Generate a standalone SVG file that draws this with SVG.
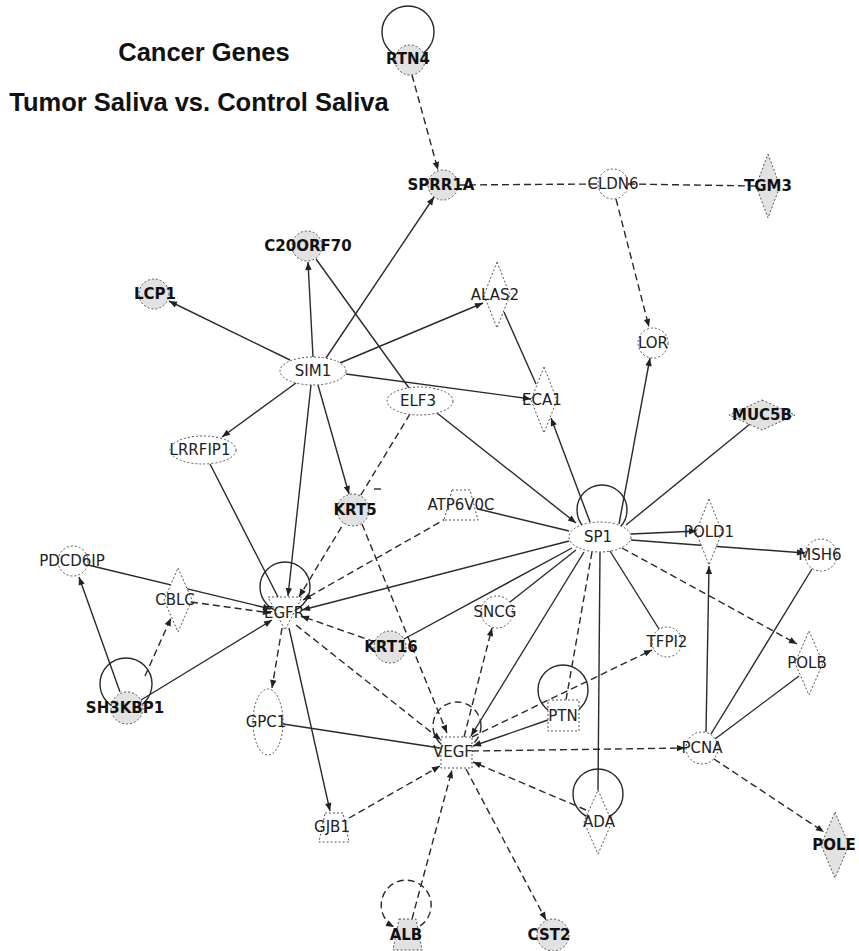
<svg xmlns="http://www.w3.org/2000/svg" width="859" height="951" viewBox="0 0 859 951">
<style>
.e{stroke:#2a2a2a;stroke-width:1.4;fill:none}
.d{stroke-dasharray:7,4}
.a{marker-end:url(#ar)}
.n{stroke:#555;stroke-width:1;stroke-dasharray:2,2;fill:#fff}
.g{fill:#e2e2e2}
.t{font-family:"DejaVu Sans",sans-serif;font-size:15px;fill:#222;text-anchor:middle}
.b{font-weight:bold;fill:#111}
.title{font-family:"Liberation Sans",Arial,sans-serif;font-weight:bold;font-size:25.5px;fill:#111;text-anchor:middle}
</style>
<defs>
<marker id="ar" viewBox="0 0 10 10" refX="10" refY="5" markerWidth="9" markerHeight="8" markerUnits="userSpaceOnUse" orient="auto">
<path d="M0,1 L10,5 L0,9 z" fill="#222"/>
</marker>
</defs>
<rect width="859" height="951" fill="#fff"/>
<text class="title" x="204" y="61">Cancer Genes</text>
<text class="title" x="199" y="111">Tumor Saliva vs. Control Saliva</text>

<g id="connectors">
<circle class="e" cx="408" cy="32" r="26"/>
<circle class="e" cx="602" cy="510" r="25"/>
<circle class="e" cx="285" cy="587" r="25"/>
<circle class="e" cx="126" cy="684" r="26"/>
<circle class="e" cx="563" cy="690" r="25"/>
<circle class="e" cx="598" cy="794" r="25"/>
<circle class="e d" cx="457" cy="726" r="24"/>
<path class="e d a" d="M420,926 A25,25 0 1 0 394,927"/>
<line class="e d a" x1="412" y1="75" x2="438" y2="170"/>
<line class="e d" x1="458" y1="185" x2="598" y2="184"/>
<line class="e d" x1="628" y1="184" x2="756" y2="186"/>
<line class="e d a" x1="616" y1="199" x2="649" y2="327"/>
<line class="e a" x1="326" y1="358" x2="434" y2="197"/>
<line class="e a" x1="313" y1="357" x2="308" y2="262"/>
<line class="e" x1="316" y1="259" x2="409" y2="388"/>
<line class="e a" x1="290" y1="360" x2="169" y2="301"/>
<line class="e a" x1="340" y1="363" x2="483" y2="303"/>
<line class="e a" x1="346" y1="374" x2="531" y2="399"/>
<line class="e" x1="504" y1="312" x2="536" y2="384"/>
<line class="e a" x1="590" y1="522" x2="551" y2="418"/>
<line class="e a" x1="619" y1="524" x2="650" y2="358"/>
<line class="e" x1="626" y1="525" x2="750" y2="424"/>
<line class="e a" x1="437" y1="413" x2="576" y2="523"/>
<line class="e a" x1="318" y1="385" x2="349" y2="494"/>
<line class="e a" x1="311" y1="385" x2="288" y2="596"/>
<line class="e a" x1="296" y1="383" x2="222" y2="437"/>
<line class="e d a" x1="410" y1="414" x2="299" y2="597"/>
<line class="e d a" x1="362" y1="524" x2="447" y2="733"/>
<line class="e" x1="478" y1="509" x2="569" y2="531"/>
<line class="e d a" x1="449" y1="517" x2="303" y2="600"/>
<line class="e a" x1="569" y1="541" x2="302" y2="610"/>
<line class="e" x1="572" y1="548" x2="404" y2="639"/>
<line class="e" x1="576" y1="550" x2="510" y2="602"/>
<line class="e a" x1="584" y1="552" x2="471" y2="736"/>
<line class="e d" x1="592" y1="552" x2="566" y2="700"/>
<line class="e" x1="600" y1="552" x2="598" y2="790"/>
<line class="e" x1="610" y1="551" x2="659" y2="629"/>
<line class="e d a" x1="622" y1="548" x2="797" y2="644"/>
<line class="e a" x1="631" y1="534" x2="697" y2="531"/>
<line class="e a" x1="631" y1="540" x2="805" y2="553"/>
<line class="e a" x1="706" y1="732" x2="709" y2="566"/>
<line class="e" x1="711" y1="734" x2="812" y2="569"/>
<line class="e" x1="715" y1="739" x2="799" y2="676"/>
<line class="e d a" x1="714" y1="759" x2="824" y2="832"/>
<line class="e d a" x1="472" y1="751" x2="685" y2="748"/>
<line class="e a" x1="548" y1="720" x2="473" y2="746"/>
<line class="e d a" x1="472" y1="737" x2="652" y2="650"/>
<line class="e d a" x1="586" y1="810" x2="473" y2="762"/>
<line class="e d a" x1="466" y1="769" x2="546" y2="920"/>
<line class="e d a" x1="412" y1="919" x2="452" y2="770"/>
<line class="e d a" x1="349" y1="818" x2="440" y2="766"/>
<line class="e" x1="283" y1="724" x2="440" y2="748"/>
<line class="e d a" x1="296" y1="625" x2="441" y2="740"/>
<line class="e d a" x1="375" y1="642" x2="301" y2="616"/>
<line class="e d a" x1="464" y1="737" x2="492" y2="628"/>
<line class="e a" x1="88" y1="565" x2="271" y2="609"/>
<line class="e d a" x1="191" y1="602" x2="271" y2="613"/>
<line class="e a" x1="120" y1="692" x2="79" y2="577"/>
<line class="e d a" x1="145" y1="676" x2="171" y2="618"/>
<line class="e a" x1="141" y1="700" x2="272" y2="620"/>
<line class="e d a" x1="282" y1="628" x2="272" y2="688"/>
<line class="e a" x1="289" y1="628" x2="330" y2="811"/>
<line class="e" x1="210" y1="464" x2="278" y2="597"/>
<line class="e" x1="374" y1="489" x2="381" y2="489"/>
</g>

<g id="RTN4"><circle class="n g" cx="410" cy="60" r="15"/><text class="t b" x="408" y="64">RTN4</text></g>
<g id="SPRR1A"><circle class="n g" cx="443" cy="185" r="15"/><text class="t b" x="441" y="190">SPRR1A</text></g>
<g id="CLDN6"><circle class="n" cx="613" cy="184" r="15"/><text class="t" x="613" y="189">CLDN6</text></g>
<g id="TGM3"><polygon class="n g" points="768,154 780,186 768,218 756,186"/><text class="t b" x="768" y="191">TGM3</text></g>
<g id="C20ORF70"><circle class="n g" cx="307" cy="246" r="15"/><text class="t b" x="308" y="251">C20ORF70</text></g>
<g id="LCP1"><circle class="n g" cx="154" cy="294" r="15"/><text class="t b" x="155" y="299">LCP1</text></g>
<g id="ALAS2"><polygon class="n" points="497,262 510,295 497,328 484,295"/><text class="t" x="495" y="300">ALAS2</text></g>
<g id="LOR"><circle class="n" cx="653" cy="343" r="15"/><text class="t" x="653" y="348">LOR</text></g>
<g id="SIM1"><ellipse class="n" cx="313" cy="371" rx="33" ry="14"/><text class="t" x="313" y="376">SIM1</text></g>
<g id="ELF3"><ellipse class="n" cx="420" cy="401" rx="33" ry="14"/><text class="t" x="418" y="406">ELF3</text></g>
<g id="ECA1"><polygon class="n" points="544,367 557,400 544,433 531,400"/><text class="t" x="542" y="405">ECA1</text></g>
<g id="MUC5B"><polygon class="n g" points="762,400 795,415 762,430 729,415"/><text class="t b" x="762" y="420">MUC5B</text></g>
<g id="LRRFIP1"><ellipse class="n" cx="203" cy="450" rx="33" ry="14"/><text class="t" x="200" y="455">LRRFIP1</text></g>
<g id="KRT5"><circle class="n g" cx="353" cy="510" r="16"/><text class="t b" x="355" y="515">KRT5</text></g>
<g id="ATP6V0C"><polygon class="n" points="452,490 470,490 478,520 444,520"/><text class="t" x="461" y="510">ATP6V0C</text></g>
<g id="SP1"><ellipse class="n" cx="600" cy="537" rx="31" ry="15"/><text class="t" x="598" y="542">SP1</text></g>
<g id="POLD1"><polygon class="n" points="709,499 722,532 709,565 696,532"/><text class="t" x="709" y="537">POLD1</text></g>
<g id="MSH6"><circle class="n" cx="821" cy="555" r="16"/><text class="t" x="820" y="560">MSH6</text></g>
<g id="PDCD6IP"><circle class="n" cx="73" cy="561" r="15"/><text class="t" x="72" y="566">PDCD6IP</text></g>
<g id="CBLC"><polygon class="n" points="178,568 192,600 178,632 164,600"/><text class="t" x="175" y="605">CBLC</text></g>
<g id="EGFR"><polygon class="n" points="268,597 302,597 285,630"/><text class="t" x="284" y="618">EGFR</text></g>
<g id="KRT16"><circle class="n g" cx="390" cy="647" r="16"/><text class="t b" x="391" y="652">KRT16</text></g>
<g id="SNCG"><circle class="n" cx="497" cy="612" r="16"/><text class="t" x="495" y="617">SNCG</text></g>
<g id="TFPI2"><circle class="n" cx="667" cy="642" r="15"/><text class="t" x="667" y="647">TFPI2</text></g>
<g id="POLB"><polygon class="n" points="809,631 823,663 809,695 795,663"/><text class="t" x="807" y="668">POLB</text></g>
<g id="SH3KBP1"><circle class="n g" cx="127" cy="708" r="16"/><text class="t b" x="125" y="713">SH3KBP1</text></g>
<g id="GPC1"><ellipse class="n" cx="268" cy="722" rx="15" ry="33"/><text class="t" x="266" y="727">GPC1</text></g>
<g id="PTN"><rect class="n" x="548" y="700" width="31" height="31"/><text class="t" x="563" y="721">PTN</text></g>
<g id="VEGF"><rect class="n" x="441" y="737" width="31" height="31"/><text class="t" x="453" y="757">VEGF</text></g>
<g id="PCNA"><circle class="n" cx="702" cy="748" r="16"/><text class="t" x="702" y="753">PCNA</text></g>
<g id="ADA"><polygon class="n" points="598,790 612,822 598,854 584,822"/><text class="t" x="599" y="827">ADA</text></g>
<g id="GJB1"><polygon class="n" points="325,813 343,813 349,842 319,842"/><text class="t" x="332" y="832">GJB1</text></g>
<g id="POLE"><polygon class="n g" points="835,812 849,845 835,878 821,845"/><text class="t b" x="834" y="850">POLE</text></g>
<g id="ALB"><polygon class="n g" points="399,919 416,919 422,950 393,950"/><text class="t b" x="406" y="940">ALB</text></g>
<g id="CST2"><circle class="n g" cx="553" cy="935" r="16"/><text class="t b" x="549" y="940">CST2</text></g>
</svg>
